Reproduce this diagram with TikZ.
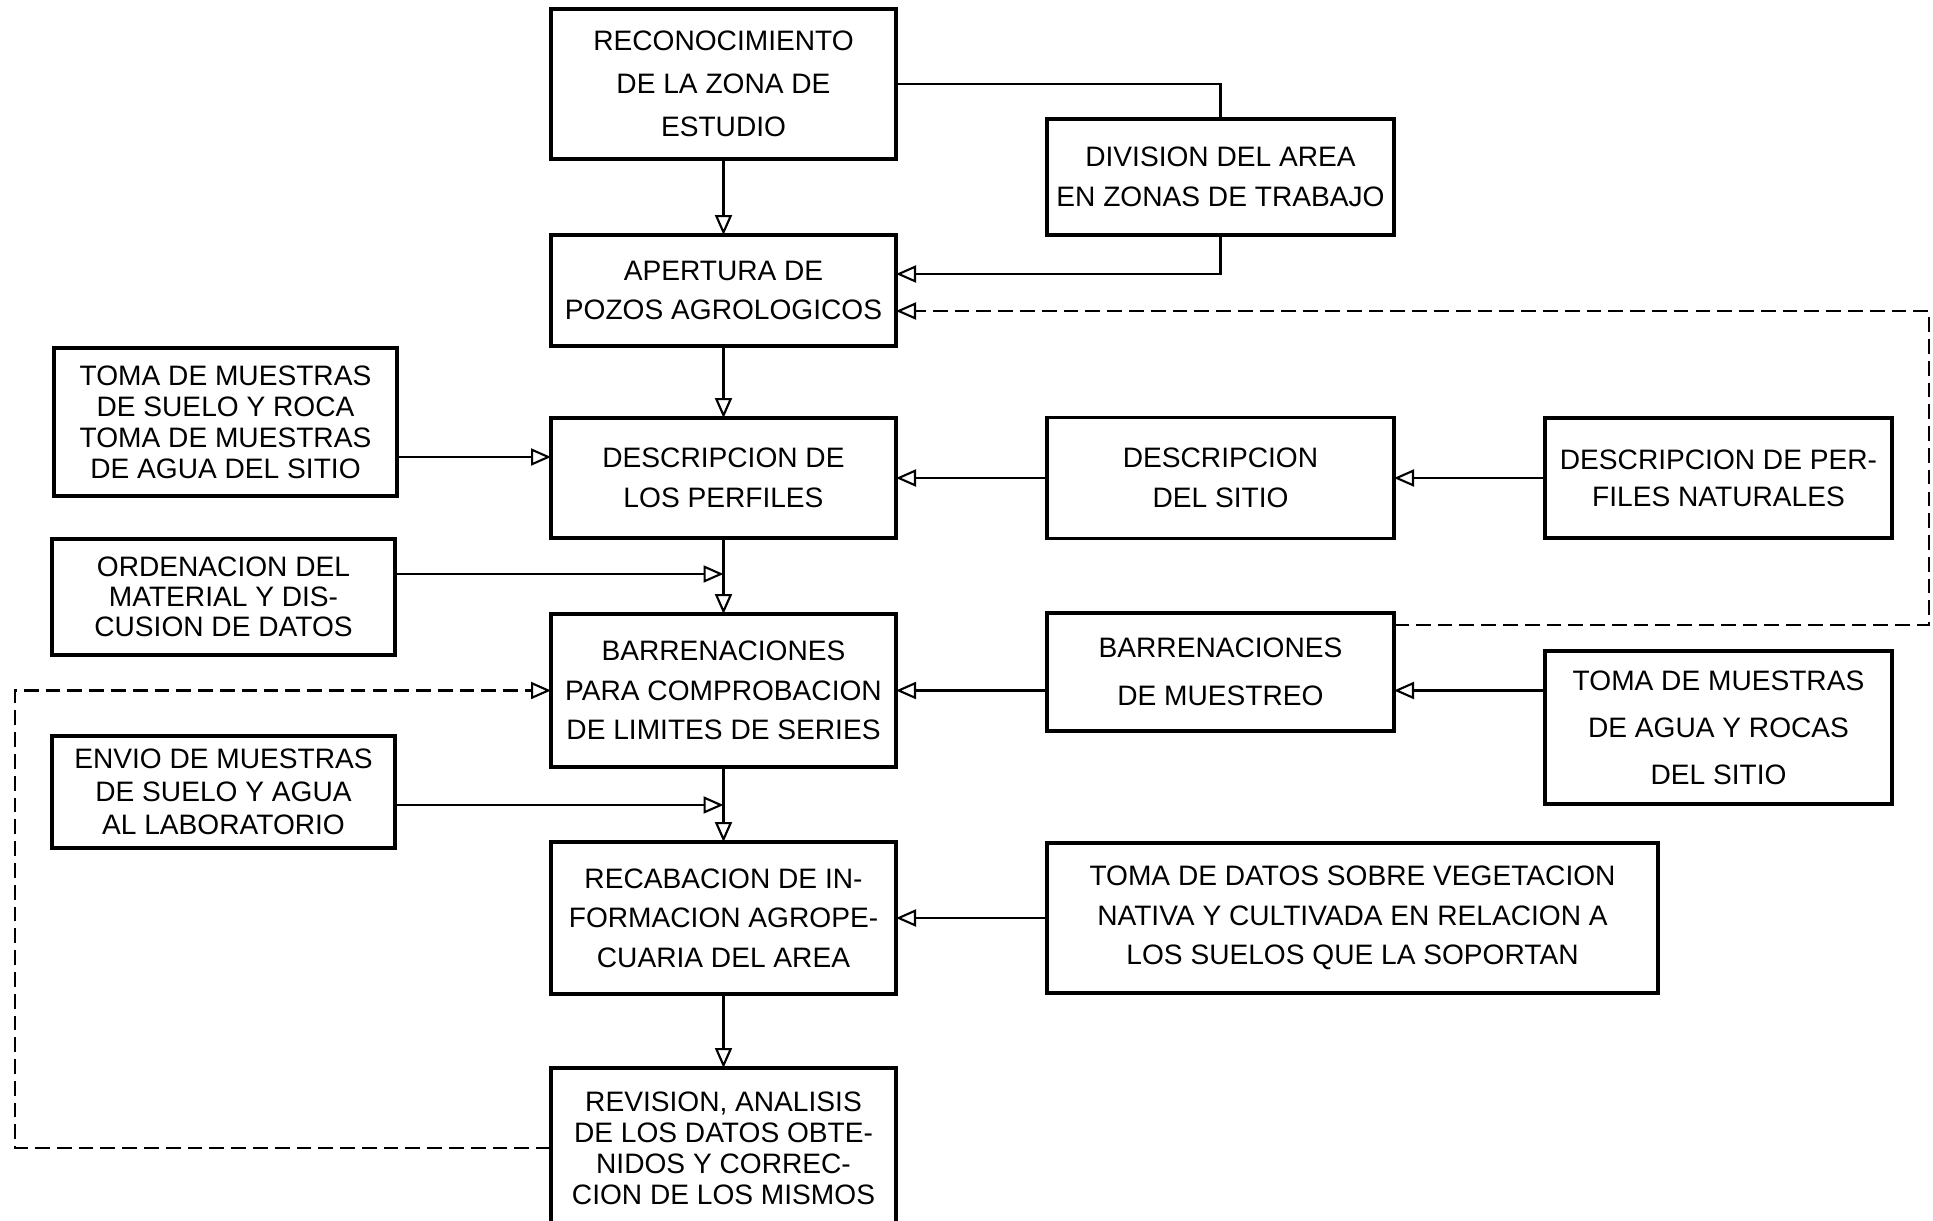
\documentclass[tikz,border=0pt]{standalone}
\usepackage{fontspec}
\setmainfont{Liberation Sans}
\usepackage{tikz}
\usetikzlibrary{positioning}
\usetikzlibrary{arrows.meta}

\newcommand{\letra}[1]{\fontsize{8pt}{#1pt}\selectfont}

\begin{document}
\begin{tikzpicture} [line width=0.6pt, >={Triangle[open,length=2mm,width=1.7mm]},
        caja/.style = {draw, line width=1pt, outer sep=0pt, minimum width=3.45cm, align=center, inner xsep=1pt, font=\letra{11.2}},
        retorno/.style = {dashed, dash pattern=on 4.2pt off 2pt}]
        \useasboundingbox (0,0) rectangle (19.33,-12.21);
        \clip (0,0) rectangle (19.33,-12.21);

        %Cajas
        \node[caja, minimum height=1.50cm, font=\letra{12.2}] (recon) at (7.235,-0.84) {RECONOCIMIENTO\\DE LA ZONA DE\\ESTUDIO};
        \node[caja, minimum height=1.11cm] (apertura) [below = 0.76cm of recon] {APERTURA DE\\POZOS AGROLOGICOS};
        \node[caja, minimum height=1.20cm] (descperf) [below = 0.72cm of apertura] {DESCRIPCION DE\\LOS PERFILES};
        \node[caja, minimum height=1.53cm] (barrcomp) [below = 0.76cm of descperf] {BARRENACIONES\\PARA COMPROBACION\\DE LIMITES DE SERIES};
        \node[caja, minimum height=1.52cm] (recab) [below = 0.75cm of barrcomp] {RECABACION DE IN-\\FORMACION AGROPE-\\CUARIA DEL AREA};
        \node[caja, minimum height=1.60cm, font=\letra{8.8}] (revision) [below = 0.74cm of recab] {REVISION, ANALISIS\\DE LOS DATOS OBTE-\\NIDOS Y CORREC-\\CION DE LOS MISMOS};

        \node[caja, minimum width=3.47cm, minimum height=1.16cm] (division) [right = 1.51cm of recon, yshift=-0.93cm] {DIVISION DEL AREA\\EN ZONAS DE TRABAJO};
        \node[caja, minimum width=3.47cm, minimum height=1.21cm] (descsitio) [right = 1.51cm of descperf] {DESCRIPCION\\DEL SITIO};
        \node[caja, minimum width=3.47cm, minimum height=1.20cm, font=\letra{10.6}] (descnat) [right = 1.51cm of descsitio] {DESCRIPCION DE PER-\\FILES NATURALES};
        \node[caja, minimum width=3.47cm, minimum height=1.18cm, font=\letra{13.8}] (barrmues) [right = 1.51cm of barrcomp, yshift=0.185cm] {BARRENACIONES\\DE MUESTREO};
        \node[caja, minimum width=3.47cm, minimum height=1.53cm, font=\letra{13.4}] (tomaar) [right = 1.51cm of barrmues, yshift=-0.555cm] {TOMA DE MUESTRAS\\DE AGUA Y ROCAS\\DEL SITIO};
        \node[caja, minimum width=6.11cm, minimum height=1.50cm] (tomaveg) [right = 1.51cm of recab] {TOMA DE DATOS SOBRE VEGETACION\\NATIVA Y CULTIVADA EN RELACION A\\LOS SUELOS QUE LA SOPORTAN};

        \node[caja, minimum width=3.43cm, minimum height=1.48cm, font=\letra{8.8}] (tomasr) [left = 1.54cm of descperf, yshift=0.56cm] {TOMA DE MUESTRAS\\DE SUELO Y ROCA\\TOMA DE MUESTRAS\\DE AGUA DEL SITIO};
        \node[caja, minimum width=3.43cm, minimum height=1.16cm, font=\letra{8.6}] (ordena) [left = 1.56cm of barrcomp, yshift=0.935cm] {ORDENACION DEL\\MATERIAL Y DIS-\\CUSION DE DATOS};
        \node[caja, minimum width=3.43cm, minimum height=1.12cm, font=\letra{9.4}] (envio) [left = 1.56cm of recab, yshift=1.26cm] {ENVIO DE MUESTRAS\\DE SUELO Y AGUA\\AL LABORATORIO};

        %Conexiones
        \coordinate (entradadiv) at ([yshift=0.165cm]apertura.east);
        \coordinate (entradaret) at ([yshift=-0.205cm]apertura.east);
        \coordinate (salidatoma) at ([yshift=-0.35cm]tomasr.east);
        \coordinate (salidaord) at ([yshift=0.23cm]ordena.east);
        \coordinate (salidaenv) at ([yshift=-0.13cm]envio.east);

        \draw (recon) -| (division);
        \draw[->] (division) |- (entradadiv);
        \draw[->] (recon) -- (apertura);
        \draw[->, retorno] ([yshift=-0.12cm]barrmues.north east) -| (entradaret -| 19.29,0) -- (entradaret);

        \draw[->] (apertura) -- (descperf);
        \draw[->] (salidatoma) -- (salidatoma -| descperf.west);
        \draw[->] (descsitio) -- (descperf);
        \draw[->] (descnat) -- (descsitio);

        \draw[->] (descperf) -- (barrcomp);
        \draw[->] (salidaord) -- (salidaord -| barrcomp.north);
        \draw[->] (barrmues.west |- barrcomp) -- (barrcomp.east);
        \draw[->] (tomaar.west |- barrcomp) -- (barrmues.east |- barrcomp);
        \draw[->, retorno] (revision.west) -| (0.15,0 |- barrcomp.west) -- (barrcomp.west);

        \draw[->] (barrcomp) -- (recab);
        \draw[->] (salidaenv) -- (salidaenv -| recab.north);
        \draw[->] (tomaveg) -- (recab);

        \draw[->] (recab) -- (revision);

    \end{tikzpicture}
\end{document}
